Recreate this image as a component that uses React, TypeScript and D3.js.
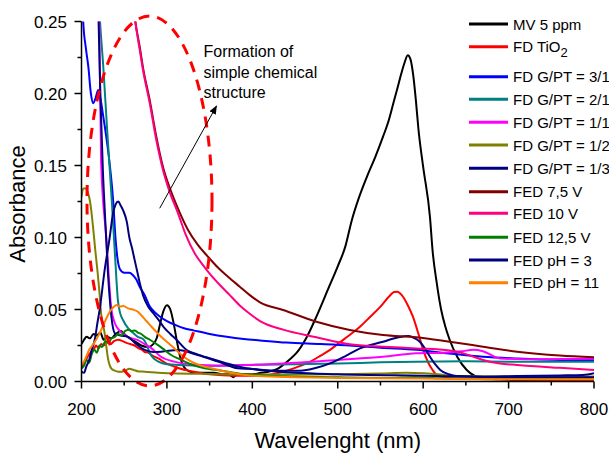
import React from 'react';
import * as d3 from 'd3';

const W = 609;
const H = 454;
const PLOT = { left: 81.5, right: 594, top: 21.5, bottom: 381.5 };

const xTicks = [200, 300, 400, 500, 600, 700, 800];
const xMinor = [250, 350, 450, 550, 650, 750];
const yTicks = [0, 0.05, 0.1, 0.15, 0.2, 0.25];
const yMinor = [0.025, 0.075, 0.125, 0.175, 0.225];

type P = [number, number];

const mv5ppm: P[] = [
  [200, 0.026], [203, 0.029], [206, 0.031], [210, 0.030], [214, 0.033], [218, 0.032], [222, 0.034],
  [226, 0.029], [230, 0.031], [235, 0.030], [240, 0.033], [246, 0.035], [250, 0.033], [256, 0.030],
  [262, 0.028], [270, 0.025], [278, 0.024], [284, 0.026], [288, 0.030], [292, 0.040], [296, 0.049],
  [300, 0.053], [304, 0.050], [308, 0.040], [312, 0.027], [316, 0.016], [320, 0.010], [326, 0.007],
  [335, 0.006], [345, 0.006], [355, 0.006], [365, 0.005], [372, 0.005], [378, 0.003], [382, 0.005],
  [390, 0.005], [400, 0.005], [410, 0.006], [420, 0.007], [430, 0.009], [436, 0.0115], [445, 0.016],
  [452, 0.020], [463, 0.030], [475, 0.045], [490, 0.066], [500, 0.080], [509, 0.094], [516, 0.111],
  [525, 0.128], [534, 0.142], [544, 0.156], [553, 0.170], [560, 0.182], [565, 0.193], [570, 0.204],
  [574, 0.213], [578, 0.221], [582, 0.2265], [585, 0.224], [588.5, 0.212], [591.5, 0.195],
  [594.5, 0.175], [600, 0.149], [608, 0.114], [611, 0.091], [616, 0.068], [621, 0.050], [626, 0.038],
  [631, 0.029], [640, 0.017], [651, 0.008], [660, 0.004], [670, 0.0024], [690, 0.0015], [720, 0.001],
  [760, 0.001], [800, 0.001],
];

const fdTiO2: P[] = [
  [200, 0.010], [203, 0.013], [206, 0.016], [209, 0.019], [212, 0.021], [215, 0.023], [217, 0.025],
  [220, 0.023], [223, 0.026], [226, 0.025], [230, 0.027], [234, 0.026], [238, 0.028], [243, 0.029],
  [248, 0.028], [252, 0.027], [257, 0.026], [262, 0.025], [267, 0.023], [271, 0.022], [274, 0.0205],
  [278, 0.020], [283, 0.018], [290, 0.016], [298, 0.013], [306, 0.011], [315, 0.009], [330, 0.007],
  [350, 0.005], [380, 0.004], [410, 0.004], [436, 0.0068], [450, 0.0095], [468, 0.0138], [480, 0.018],
  [491, 0.022], [502, 0.027], [514, 0.0323], [526, 0.038], [538, 0.045], [550, 0.052], [560, 0.059],
  [566, 0.0622], [570, 0.0624], [575, 0.060], [582, 0.053], [588, 0.045], [594, 0.034], [600, 0.022],
  [606, 0.013], [611, 0.008], [616, 0.0045], [625, 0.003], [640, 0.002], [680, 0.0015], [800, 0.001],
];

const fdGPT31: P[] = [
  [200, 0.32], [202, 0.25], [205, 0.232], [208, 0.2186], [211, 0.200], [213.8, 0.1932], [216, 0.196],
  [219.7, 0.2024], [222, 0.197], [225.5, 0.184], [231, 0.161], [237, 0.126], [240, 0.098], [242, 0.086],
  [245, 0.078], [250, 0.0755], [256, 0.0755], [260, 0.074], [264, 0.071], [268, 0.066], [274, 0.060],
  [280, 0.052], [286, 0.048], [292, 0.045], [300, 0.042], [311, 0.039], [320, 0.037], [331, 0.0355],
  [350, 0.033], [370, 0.031], [390, 0.0295], [409, 0.0285], [440, 0.027], [480, 0.026], [514, 0.025],
  [550, 0.0235], [592, 0.022], [630, 0.0195], [670, 0.0172], [710, 0.016], [760, 0.015], [800, 0.0148],
];

const fdGPT21: P[] = [
  [200, 0.55], [210, 0.40], [216, 0.32], [221.7, 0.25], [225.5, 0.2186], [230, 0.175], [235.4, 0.126],
  [239, 0.090], [242.7, 0.056], [245, 0.048], [248.6, 0.0427], [254.5, 0.037], [260, 0.034], [266, 0.031],
  [272, 0.0295], [276, 0.026], [280, 0.0196], [285, 0.0158], [290, 0.0138], [300, 0.012], [313, 0.0115],
  [350, 0.011], [397, 0.0115], [450, 0.012], [500, 0.0125], [550, 0.0133], [592, 0.0138], [650, 0.014],
  [700, 0.0138], [800, 0.0138],
];

const fdGPT11: P[] = [
  [200, 0.60], [210, 0.42], [216, 0.32], [220.8, 0.25], [223, 0.152], [229, 0.100], [235, 0.050],
  [239, 0.0406], [245, 0.035], [254, 0.031], [266, 0.0288], [274, 0.026], [282, 0.023], [293, 0.0172],
  [309, 0.0138], [330, 0.0118], [360, 0.011], [397, 0.0115], [450, 0.013], [500, 0.015], [553, 0.0172],
  [592, 0.0196], [625, 0.020], [645, 0.021], [659, 0.022], [670, 0.021], [690, 0.016], [720, 0.0155],
  [800, 0.016],
];

const fdGPT12: P[] = [
  [200, 0.128], [202, 0.134], [205, 0.134], [207.6, 0.131], [210, 0.125], [213.5, 0.1075], [216, 0.092],
  [219, 0.075], [221, 0.062], [223, 0.047], [227, 0.034], [231, 0.016], [235, 0.009], [239, 0.0075],
  [243, 0.0068], [247, 0.0068], [251, 0.0075], [256, 0.0088], [261, 0.008], [267, 0.007], [274, 0.0068],
  [290, 0.006], [305, 0.0057], [350, 0.0052], [400, 0.0048], [450, 0.0048], [500, 0.005], [550, 0.0055],
  [580, 0.006], [600, 0.0058], [620, 0.0048], [640, 0.0038], [700, 0.0035], [800, 0.0035],
];

const fdGPT13: P[] = [
  [200, 0.70], [212, 0.40], [218, 0.29], [220, 0.25], [222, 0.20], [225, 0.147], [228, 0.110],
  [231, 0.075], [233, 0.058], [235, 0.045], [239, 0.0335], [245, 0.032], [254.5, 0.031], [264, 0.026],
  [274, 0.0219], [284, 0.0205], [293.5, 0.0207], [313, 0.0219], [336, 0.0184], [360, 0.0138],
  [383, 0.0092], [397, 0.0088], [430, 0.0075], [456, 0.0075], [475, 0.0095], [491, 0.0126], [510, 0.018],
  [526, 0.023], [553, 0.0276], [570, 0.0305], [582.7, 0.0316], [590, 0.030], [596, 0.0276], [602, 0.023],
  [608, 0.0172], [614, 0.012], [620, 0.008], [630, 0.005], [639, 0.0038], [670, 0.0033], [710, 0.0038],
  [760, 0.0042], [787, 0.0045], [800, 0.0057],
];

const fed75V: P[] = [
  [240, 0.40], [255, 0.30], [263, 0.25], [268, 0.233], [272, 0.218], [280, 0.195], [287.6, 0.170],
  [295.4, 0.149], [303, 0.135], [313, 0.120], [324.7, 0.1052], [336, 0.095], [348, 0.0867], [360, 0.079],
  [371.5, 0.0728], [385, 0.066], [397, 0.060], [409, 0.055], [436, 0.0497], [475, 0.0415], [514, 0.0358],
  [553, 0.0323], [592, 0.0307], [631, 0.0276], [670, 0.0242], [710, 0.0207], [760, 0.018], [800, 0.0168],
];

const fed10V: P[] = [
  [240, 0.40], [255, 0.30], [263, 0.25], [268, 0.231], [272, 0.2163], [280, 0.193], [287.6, 0.1677],
  [295.4, 0.1469], [303, 0.132], [313, 0.1168], [322, 0.102], [332.5, 0.089], [342, 0.081], [352, 0.0735],
  [362, 0.067], [371.5, 0.0613], [385, 0.053], [397, 0.047], [409, 0.042], [436, 0.036], [475, 0.0307],
  [514, 0.0258], [553, 0.0242], [592, 0.023], [631, 0.0215], [650, 0.019], [670, 0.0149], [690, 0.0125],
  [710, 0.0115], [760, 0.0095], [800, 0.008],
];

const fed125V: P[] = [
  [200, 0.009], [203, 0.011], [206, 0.015], [209, 0.013], [212, 0.019], [215, 0.022], [218, 0.020],
  [221, 0.025], [224, 0.024], [228, 0.028], [232, 0.027], [235, 0.030], [239, 0.031], [243, 0.033],
  [247, 0.032], [251, 0.035], [255, 0.036], [259, 0.035], [262, 0.0355], [266, 0.034], [270, 0.033],
  [274, 0.031], [280, 0.029], [289.6, 0.0253], [297, 0.022], [305, 0.0184], [313, 0.016], [321, 0.0138],
  [332, 0.011], [344, 0.0092], [358, 0.008], [371.5, 0.0068], [390, 0.005], [420, 0.004], [500, 0.003],
  [560, 0.0025], [590, 0.003], [620, 0.0022], [700, 0.0018], [760, 0.002], [800, 0.0025],
];

const fedPH3: P[] = [
  [200, 0.007], [203, 0.006], [205.6, 0.0103], [209, 0.015], [212, 0.022], [215.5, 0.029], [219, 0.042],
  [221.3, 0.050], [227, 0.077], [233, 0.100], [237, 0.117], [240, 0.123], [243, 0.125], [246, 0.122],
  [248.6, 0.119], [253, 0.111], [256, 0.100], [259, 0.093], [262, 0.085], [265, 0.077], [268, 0.069],
  [272, 0.060], [278, 0.052], [284, 0.0474], [290, 0.043], [296, 0.038], [304, 0.033], [311.5, 0.0288],
  [323, 0.0219], [335, 0.019], [350, 0.0161], [370, 0.0126], [393, 0.0092], [409, 0.008], [450, 0.006],
  [500, 0.005], [600, 0.004], [700, 0.003], [800, 0.003],
];

const fedPH11: P[] = [
  [200, 0.0115], [203, 0.014], [206, 0.018], [209, 0.022], [211.5, 0.024], [215, 0.027], [219, 0.031],
  [223, 0.0358], [227, 0.041], [231, 0.0462], [235, 0.050], [238, 0.052], [241, 0.0531], [245, 0.052],
  [249, 0.0525], [254.5, 0.0508], [260, 0.050], [266, 0.0485], [270, 0.046], [276, 0.042], [282, 0.038],
  [290, 0.033], [297.4, 0.0288], [305, 0.025], [313, 0.0207], [320, 0.017], [328.6, 0.0138], [340, 0.011],
  [352, 0.0092], [368, 0.007], [383, 0.0052], [406.7, 0.0038], [450, 0.003], [500, 0.0025], [600, 0.002],
  [700, 0.0015], [800, 0.0015],
];

const seriesLabels = [
  'MV 5 ppm', 'FD TiO2', 'FD G/PT = 3/1', 'FD G/PT = 2/1', 'FD G/PT = 1/1', 'FD G/PT = 1/2',
  'FD G/PT = 1/3', 'FED 7,5 V', 'FED 10 V', 'FED 12,5 V', 'FED pH = 3', 'FED pH = 11',
];
const seriesColors = [
  '#000000', '#ff0000', '#0000ff', '#008080', '#ff00ff', '#808000',
  '#000080', '#800000', '#ff0080', '#008000', '#000080', '#ff8000',
];
const seriesData = [
  mv5ppm, fdTiO2, fdGPT31, fdGPT21, fdGPT11, fdGPT12, fdGPT13, fed75V, fed10V, fed125V, fedPH3, fedPH11,
];
const legendY = [24, 46.7, 76.7, 99.3, 122.3, 145, 168.3, 191.7, 213.3, 237.3, 260, 282.7];

const annotationLines = ['Formation of', 'simple chemical', 'structure'];

const FONT = 'Arial, "Liberation Sans", Helvetica, sans-serif';

export default function App() {
  const x = d3.scaleLinear().domain([200, 800]).range([PLOT.left, PLOT.right]);
  const y = d3.scaleLinear().domain([0, 0.25]).range([PLOT.bottom, PLOT.top]);
  const line = d3
    .line<P>()
    .x((d) => x(d[0]))
    .y((d) => y(d[1]))
    .curve(d3.curveMonotoneX);

  return (
    <svg
      width={W}
      height={H}
      style={{ position: 'absolute', left: 0, top: 0, background: '#fff' }}
      fontFamily={FONT}
    >
      <defs>
        <clipPath id="plotclip">
          <rect x={PLOT.left} y={PLOT.top} width={PLOT.right - PLOT.left} height={PLOT.bottom - PLOT.top} />
        </clipPath>
        <marker id="arrowhead" viewBox="0 0 10 10" refX="9" refY="5" markerWidth="9" markerHeight="9" orient="auto" markerUnits="userSpaceOnUse">
          <path d="M0,1 L10,5 L0,9 Z" fill="#000" />
        </marker>
      </defs>
      <rect x={0} y={0} width={W} height={H} fill="#fff" />

      <g clipPath="url(#plotclip)">
        {seriesData.map((d, i) => (
          <path key={i} d={line(d) || ''} fill="none" stroke={seriesColors[i]} strokeWidth={2} strokeLinejoin="round" />
        ))}
      </g>

      {/* annotation ellipse */}
      <ellipse cx={149.5} cy={201} rx={62.5} ry={185} fill="none" stroke="#ff0000" strokeWidth={3} strokeDasharray="11 8" />
      <line x1={159.7} y1={208.3} x2={216.5} y2={106} stroke="#000" strokeWidth={1} markerEnd="url(#arrowhead)" />
      <text fontSize={16} fill="#000">
        {annotationLines.map((t, i) => (
          <tspan key={i} x={203.5} y={57 + i * 20.5}>{t}</tspan>
        ))}
      </text>

      {/* axes */}
      <line x1={PLOT.left} x2={PLOT.right} y1={PLOT.bottom} y2={PLOT.bottom} stroke="#000" strokeWidth={1.5} />
      <line x1={PLOT.left} x2={PLOT.left} y1={PLOT.top} y2={PLOT.bottom} stroke="#000" strokeWidth={1.5} />
      {xTicks.map((t) => (
        <g key={'xt' + t}>
          <line x1={x(t)} x2={x(t)} y1={PLOT.bottom} y2={PLOT.bottom + 7} stroke="#000" strokeWidth={1.5} />
          <text x={x(t)} y={415} fontSize={17} textAnchor="middle">{t}</text>
        </g>
      ))}
      {xMinor.map((t) => (
        <line key={'xm' + t} x1={x(t)} x2={x(t)} y1={PLOT.bottom} y2={PLOT.bottom + 4} stroke="#000" strokeWidth={1.5} />
      ))}
      {yTicks.map((t) => (
        <g key={'yt' + t}>
          <line x1={PLOT.left - 7} x2={PLOT.left} y1={y(t)} y2={y(t)} stroke="#000" strokeWidth={1.5} />
          <text x={67} y={y(t) + 6} fontSize={17} textAnchor="end">{d3.format('.2f')(t)}</text>
        </g>
      ))}
      {yMinor.map((t) => (
        <line key={'ym' + t} x1={PLOT.left - 4} x2={PLOT.left} y1={y(t)} y2={y(t)} stroke="#000" strokeWidth={1.5} />
      ))}

      <text x={(PLOT.left + PLOT.right) / 2} y={448} fontSize={22} textAnchor="middle">Wavelenght (nm)</text>
      <text transform="translate(25,204) rotate(-90)" fontSize={22} textAnchor="middle">Absorbance</text>

      {/* legend */}
      {seriesLabels.map((lab, i) => (
        <g key={'lg' + i}>
          <line x1={469} x2={508} y1={legendY[i]} y2={legendY[i]} stroke={seriesColors[i]} strokeWidth={3} />
          <text x={513} y={legendY[i] + 5.5} fontSize={15}>
            {lab === 'FD TiO2' ? (
              <>
                FD TiO<tspan dy={5} fontSize={13}>2</tspan>
              </>
            ) : (
              lab
            )}
          </text>
        </g>
      ))}
    </svg>
  );
}
